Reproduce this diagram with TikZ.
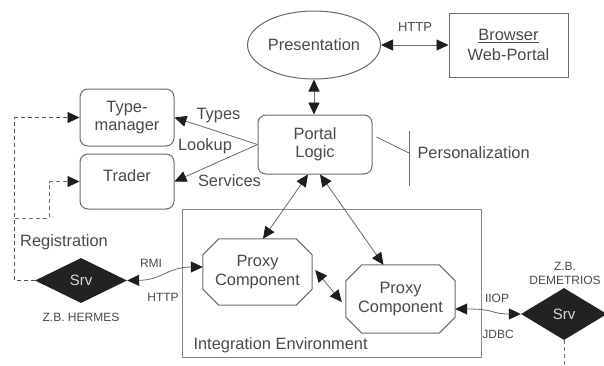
\documentclass[tikz,border=0pt]{standalone}
\usepackage{fontspec}
\setmainfont{Liberation Sans}
\usetikzlibrary{arrows.meta,shapes.geometric,calc}
\definecolor{txt}{HTML}{4A4A4A}
\definecolor{ln}{HTML}{6A6A6A}
\definecolor{tipc}{HTML}{1E1E1E}
\definecolor{dk}{HTML}{222222}
\newcommand\drawocto[2]{%
  \draw[ln, line width=1pt] ([xshift=#2]#1.north west) -- ([xshift=-#2]#1.north east)
    -- ([yshift=-#2]#1.north east) -- ([yshift=#2]#1.south east)
    -- ([xshift=-#2]#1.south east) -- ([xshift=#2]#1.south west)
    -- ([yshift=#2]#1.south west) -- ([yshift=-#2]#1.north west) -- cycle;}
\begin{document}
\begin{tikzpicture}[x=1pt,y=-1pt,
  >={Triangle[length=12pt,width=11pt,color=tipc]},
  every node/.style={font=\fontsize{16.4}{18.5}\selectfont, text=txt},
  small/.style={font=\fontsize{12}{14}\selectfont},
  box/.style={draw=ln, line width=1pt, rectangle, inner sep=0pt, align=center},
  rbox/.style={box, rounded corners=8pt},
  ghost/.style={rectangle, inner sep=0pt, align=center},
  con/.style={draw=ln, line width=0.8pt},
  dsh/.style={con, dash pattern=on 4pt off 3pt},
  srv/.style={diamond, fill=dk, inner sep=0pt, text=white!85!black, font=\fontsize{15}{17}\selectfont}
]
\useasboundingbox (0,0) rectangle (604,365);
\fill[white] (0,0) rectangle (604,365);

% nodes
\node[box, ellipse, minimum width=133pt, minimum height=68pt] (pres) at (314,45) {Presentation};
\node[box, minimum width=119pt, minimum height=64pt] (brow) at (508.5,45) {\underline{Browser}\\[1pt]Web-Portal};
\node[rbox, minimum width=114pt, minimum height=59pt] (pl) at (315,144.5) {Portal\\Logic};
\node[rbox, minimum width=94pt, minimum height=57pt] (tm) at (127,117.5) {Type-\\manager};
\node[rbox, minimum width=94pt, minimum height=55pt] (tr) at (127,181.5) {};
\node (trl) at (127,176) {Trader};
\node[box, draw=ln!80, minimum width=299pt, minimum height=148pt] (ie) at (331.5,283) {};
\node[anchor=west] (iel) at (190,345) {Integration Environment};

\node[ghost, minimum width=109pt, minimum height=66pt] (p1) at (257.5,272) {Proxy\\Component};
\node[ghost, minimum width=109pt, minimum height=68pt] (p2) at (400.5,299) {Proxy\\Component};
\drawocto{p1}{16pt}
\drawocto{p2}{16pt}

\node[srv, minimum width=92pt, minimum height=45pt] (s1) at (81,280.5) {Srv};
\node[srv, minimum width=86pt, minimum height=52pt] (s2) at (564,314) {Srv};
\node[small] (hermes) at (81,317) {Z.B. HERMES};
\node[small, align=center] (demet) at (565,273) {Z.B.\\DEMETRIOS};

% connectors
\draw[con, <->] (pres.east) -- (brow.west);
\node[small, font=\fontsize{13}{15}\selectfont] (http1) at (415,27) {HTTP};
\draw[con, <->] (pres.south) -- (pres.south |- pl.north);

\draw[con, ->] (pl.west) -- (tm.east);
\draw[con, ->] (pl.west) -- (tr.east);
\node (types) at (218.5,116) {Types};
\node (lookup) at (205,146) {Lookup};
\node (serv) at (229.5,181) {Services};

\coordinate (pm) at (409,153);
\coordinate (pa) at (409,131);
\coordinate (pb) at (409,186);
\draw[con] ([xshift=4pt,yshift=7.5pt]pl.east) -- (pm);
\draw[con] (pa) -- (pb);
\node[anchor=west] (pers) at (414,153) {Personalization};

\draw[con, <->] ([xshift=-7pt]pl.south) -- ([xshift=5.5pt]p1.north);
\draw[con, <->] ([xshift=5pt]pl.south) -- ([xshift=-17pt]p2.north);
\draw[con, <->] ([xshift=3pt,yshift=2pt]p1.east) -- ([xshift=-4pt,yshift=-3pt]p2.west);

\draw[con, <->] (s1.east) .. controls (162,280) and (168,267) .. ([yshift=5pt]p1.west);
\node[small] (rmi) at (151,263) {RMI};
\node[small] (http2) at (163,297) {HTTP};

\draw[con, <->] ([yshift=-10pt]p2.east) .. controls (497,309) and (490,314) .. (s2.west);
\node[small] (iiop) at (497,298) {IIOP};
\node[small] (jdbc) at (498,334) {JDBC};

\draw[dsh, draw=ln!80!black, ->] (s1.west) -- ++(-20,0) |- (tm.west);
\coordinate (rj) at (15,218);
\draw[dsh, ->] (rj) -- (49,218) |- (tr.west);
\node (reg) at (64,242) {Registration};

\coordinate (s2end) at (564,365);
\draw[dsh] (s2.south) -- (s2end);
\end{tikzpicture}
\end{document}
